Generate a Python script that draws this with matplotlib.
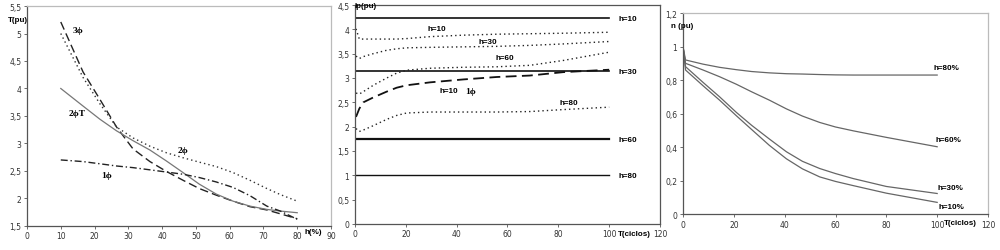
import matplotlib
matplotlib.use("Agg")
import matplotlib.pyplot as plt
from matplotlib.ticker import FuncFormatter

# painel 1: T(pu) em função de h(%)
h_pct = [10, 16.6, 21.6, 26.5, 31.4, 36.4, 41.3, 46.2, 51, 56, 61, 66, 71, 75, 80]
t_3f = [5.21, 4.3, 3.8, 3.3, 2.9, 2.67, 2.49, 2.33, 2.18, 2.06, 1.95, 1.85, 1.79, 1.72, 1.63]
t_2f = [5.0, 4.2, 3.72, 3.3, 3.1, 2.95, 2.83, 2.74, 2.66, 2.58, 2.47, 2.33, 2.18, 2.07, 1.95]
t_2fT = [4.0, 3.68, 3.44, 3.23, 3.05, 2.88, 2.68, 2.47, 2.26, 2.08, 1.95, 1.86, 1.8, 1.77, 1.74]
t_1f = [2.7, 2.67, 2.63, 2.59, 2.56, 2.52, 2.48, 2.44, 2.38, 2.3, 2.2, 2.05, 1.86, 1.77, 1.62]

# painel 2: Ip(pu) em função de T(ciclos)
ip_niveis = [4.23, 3.14, 1.74, 1.0]
ip_niveis_lbl = ["h=10", "h=30", "h=60", "h=80"]
ip_niveis_lw = [1.2, 1.2, 1.6, 1.0]
t_ip = [0.4, 1.7, 3.3, 7.2, 12.5, 16.4, 20.3, 29.5, 42.6, 55.7, 68.8, 81.9, 100]
ip_h10 = [4.01, 3.8, 3.8, 3.8, 3.8, 3.8, 3.81, 3.85, 3.88, 3.9, 3.91, 3.92, 3.94]
ip_h30 = [3.45, 3.4, 3.44, 3.5, 3.57, 3.6, 3.62, 3.63, 3.64, 3.65, 3.67, 3.7, 3.75]
ip_h60 = [2.69, 2.67, 2.72, 2.85, 3.0, 3.1, 3.16, 3.2, 3.22, 3.23, 3.26, 3.36, 3.53]
ip_h80 = [1.96, 1.9, 1.93, 2.02, 2.15, 2.23, 2.28, 2.3, 2.3, 2.3, 2.31, 2.35, 2.4]
ip_h10_1f = [2.2, 2.37, 2.5, 2.6, 2.72, 2.8, 2.85, 2.91, 2.97, 3.02, 3.05, 3.12, 3.17]

# painel 3: n(pu) em função de T(ciclos)
t_n = [0, 1, 7.9, 14.4, 21, 27, 34, 40.7, 47, 53.8, 60, 67, 80, 100]
n_h80 = [1.0, 0.92, 0.895, 0.876, 0.862, 0.851, 0.843, 0.838, 0.836, 0.833, 0.831, 0.83, 0.83, 0.83]
n_h60 = [1.0, 0.9, 0.86, 0.82, 0.775, 0.73, 0.68, 0.628, 0.585, 0.547, 0.52, 0.497, 0.458, 0.402]
n_h30 = [1.0, 0.88, 0.786, 0.7, 0.607, 0.53, 0.448, 0.372, 0.315, 0.272, 0.242, 0.212, 0.165, 0.123]
n_h10 = [1.0, 0.86, 0.766, 0.68, 0.587, 0.505, 0.41, 0.33, 0.27, 0.222, 0.195, 0.17, 0.125, 0.07]
n_lbl = ["h=80%", "h=60%", "h=30%", "h=10%"]

virgula = FuncFormatter(lambda v, p: ("%g" % round(v, 2)).replace(".", ","))
fs = 5.5
bold = dict(fontsize=5.8, fontweight="bold", family="Liberation Sans")
serif = dict(fontsize=6.8, fontweight="bold", family="Liberation Serif")


def estilo(ax, cor_cima="#bbbbbb", cor_base="#555555"):
    ax.spines["left"].set_color(cor_base)
    ax.spines["bottom"].set_color(cor_base)
    ax.spines["top"].set_color(cor_cima)
    ax.spines["right"].set_color(cor_cima)
    for s in ax.spines.values():
        s.set_linewidth(0.9)
    ax.tick_params(labelsize=fs, length=2, width=0.6, color="#555555", pad=2, labelcolor="#333333")
    ax.yaxis.set_major_formatter(virgula)


fig = plt.figure(figsize=(10, 2.51), dpi=100)

# --- painel 1
ax1 = fig.add_axes([0.027, 0.096, 0.304, 0.876])
ax1.plot(h_pct, t_3f, color="#222222", lw=1.0, dashes=(6, 3))
ax1.plot(h_pct, t_2f, color="#333333", lw=1.0, dashes=(1, 2.2))
ax1.plot(h_pct, t_2fT, color="#777777", lw=0.9)
ax1.plot(h_pct, t_1f, color="#222222", lw=1.0, dashes=(5, 2, 1, 2))
ax1.set_xlim(0, 90)
ax1.set_ylim(1.5, 5.5)
ax1.set_xticks(range(0, 91, 10))
ax1.set_yticks([1.5, 2, 2.5, 3, 3.5, 4, 4.5, 5, 5.5])
estilo(ax1)
ax1.text(15.2, 5.06, "3ϕ", ha="center", va="center", **serif)
ax1.text(14.7, 3.56, "2ϕT", ha="center", va="center", **serif)
ax1.text(46.2, 2.88, "2ϕ", ha="center", va="center", **serif)
ax1.text(23.7, 2.42, "1ϕ", ha="center", va="center", **serif)
ax1.text(-2.6, 5.26, "T(pu)", ha="center", va="center", **bold)
ax1.text(84.6, 1.4, "h(%)", ha="center", va="center", clip_on=False, **bold)

# --- painel 2
ax2 = fig.add_axes([0.355, 0.104, 0.305, 0.872])
for y, lbl, lw in zip(ip_niveis, ip_niveis_lbl, ip_niveis_lw):
    ax2.plot([0, 100], [y, y], color="#111111", lw=lw)
    ax2.text(103.5, y, lbl, ha="left", va="center", **bold)
for serie in [ip_h10, ip_h30, ip_h60, ip_h80]:
    ax2.plot(t_ip, serie, color="#222222", lw=1.0, dashes=(1, 2.2))
ax2.plot(t_ip, ip_h10_1f, color="#111111", lw=1.3, dashes=(6, 3))
ax2.set_xlim(0, 120)
ax2.set_ylim(0, 4.5)
ax2.set_xticks(range(0, 121, 20))
ax2.set_yticks([0, 0.5, 1, 1.5, 2, 2.5, 3, 3.5, 4, 4.5])
estilo(ax2, cor_cima="#555555")
ax2.text(32, 4.01, "h=10", ha="center", va="center", **bold)
ax2.text(52.4, 3.76, "h=30", ha="center", va="center", **bold)
ax2.text(59, 3.43, "h=60", ha="center", va="center", **bold)
ax2.text(37, 2.74, "h=10", ha="center", va="center", **bold)
ax2.text(45.5, 2.74, "1ϕ", ha="center", va="center", **serif)
ax2.text(84.3, 2.5, "h=80", ha="center", va="center", **bold)
ax2.text(4.3, 4.49, "Ip(pu)", ha="center", va="center", **bold)
ax2.text(110, -0.2, "T(ciclos)", ha="center", va="center", clip_on=False, **bold)

# --- painel 3
ax3 = fig.add_axes([0.683, 0.143, 0.305, 0.801])
for serie, lbl in zip([n_h80, n_h60, n_h30, n_h10], n_lbl):
    ax3.plot(t_n, serie, color="#666666", lw=0.9)
ax3.set_xlim(0, 120)
ax3.set_ylim(0, 1.2)
ax3.set_xticks(range(0, 121, 20))
ax3.set_yticks([0, 0.2, 0.4, 0.6, 0.8, 1, 1.2])
estilo(ax3)
ax3.text(103.7, 0.876, n_lbl[0], ha="center", va="center", **bold)
ax3.text(104.3, 0.448, n_lbl[1], ha="center", va="center", **bold)
ax3.text(105.4, 0.159, n_lbl[2], ha="center", va="center", **bold)
ax3.text(105.6, 0.046, n_lbl[3], ha="center", va="center", **bold)
ax3.text(-0.4, 1.128, "n (pu)", ha="center", va="center", **bold)
ax3.text(109, -0.05, "T(ciclos)", ha="center", va="center", clip_on=False, **bold)

fig.savefig("out.png", dpi=100)
